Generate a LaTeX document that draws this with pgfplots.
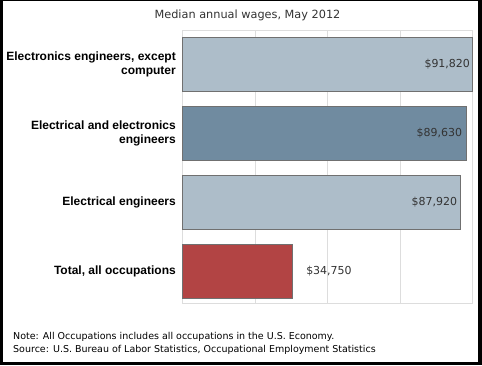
\documentclass[border=0pt]{standalone}
\usepackage{pgfplots}
\pgfplotsset{compat=1.18}
\usepackage{fontspec}
\setmainfont{Liberation Sans}
\newfontfamily\dejavu{DejaVu Sans}
\definecolor{barlight}{RGB}{173,189,201}
\definecolor{bardark}{RGB}{112,139,160}
\definecolor{barred}{RGB}{178,68,68}
\definecolor{edgegray}{RGB}{112,112,112}
\definecolor{gridgray}{RGB}{221,221,221}
\definecolor{txt}{RGB}{51,51,51}
\begin{document}
\begin{tikzpicture}[x=1pt,y=1pt]
\fill[black] (0,0) rectangle (482,365);
\fill[white] (3,3) rectangle (478,364);
\node[anchor=base, font=\dejavu\fontsize{11.3}{13}\selectfont, text=txt, inner sep=0pt] at (247.5,346.5) {Median annual wages, May 2012};
\node[anchor=base west, font=\dejavu\fontsize{9.5}{11}\selectfont, text=black, inner sep=0pt] at (13,26) {Note: All Occupations includes all occupations in the U.S. Economy.};
\node[anchor=base west, font=\dejavu\fontsize{9.5}{11}\selectfont, text=black, inner sep=0pt] at (13,13) {Source: U.S. Bureau of Labor Statistics, Occupational Employment Statistics};
\begin{axis}[
  at={(183pt,62pt)}, anchor=south west,
  scale only axis, width=290pt, height=273pt,
  xbar, bar width=54pt, bar shift=0pt,
  xmin=0, xmax=91820, ymin=-0.497, ymax=3.46, y dir=reverse,
  ytick={0,1,2,3},
  yticklabels={{Electronics engineers, except\\computer},{Electrical and electronics\\engineers},{Electrical engineers},{Total, all occupations}},
  yticklabel style={align=right, inner sep=0pt, xshift=-7pt, font=\fontsize{12}{14}\selectfont\bfseries, text=black},
  xtick={22955,45910,68865}, xticklabels={}, scaled x ticks=false,
  major tick length=0pt,
  xmajorgrids, grid style={gridgray, line width=1pt},
  axis line style={gridgray, line width=1pt},
  clip=false,
  point meta=x,
  nodes near coords={\$\pgfmathprintnumber[fixed, precision=0, 1000 sep={,}, assume math mode=true]{\pgfplotspointmeta}},
  every node near coord/.append style={font=\dejavu\fontsize{11}{13}\selectfont, text=txt, inner sep=0pt},
]
\addplot[fill=barlight, draw=edgegray, line width=1pt, every node near coord/.append style={anchor=east, xshift=-2.5pt}] coordinates {(91820,0)};
\addplot[fill=bardark, draw=edgegray, line width=1pt, every node near coord/.append style={anchor=east, xshift=-3.5pt}] coordinates {(89630,1)};
\addplot[fill=barlight, draw=edgegray, line width=1pt, every node near coord/.append style={anchor=east, xshift=-3pt}] coordinates {(87920,2)};
\addplot[fill=barred, draw=edgegray, line width=1pt, every node near coord/.append style={anchor=west, xshift=13pt}] coordinates {(34750,3)};
\end{axis}
\pgfresetboundingbox
\path (0,0) rectangle (482,365);
\end{tikzpicture}
\end{document}
